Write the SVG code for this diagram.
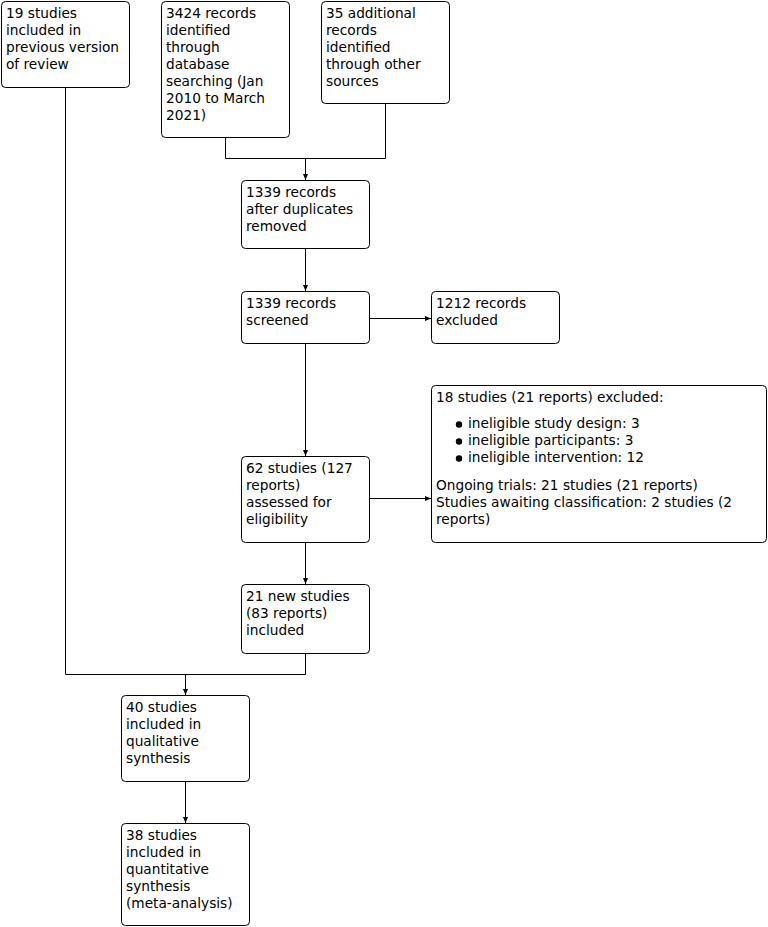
<svg xmlns="http://www.w3.org/2000/svg" width="768" height="927" viewBox="0 0 768 927">
<style>
rect.box{fill:#fff;stroke:#000;stroke-width:1}
text{font-family:"DejaVu Sans",Verdana,sans-serif;font-size:13.7px;fill:#000}
.c{fill:none;stroke:#000;stroke-width:1}
</style>
<defs>
<marker id="ah" markerWidth="6" markerHeight="6" refX="6" refY="3" orient="auto" markerUnits="userSpaceOnUse">
<path d="M0,0.5 L6,3 L0,5.5 Z" fill="#000"/>
</marker>
</defs>
<rect width="768" height="927" fill="#fff"/>
<g id="connectors">
<path class="c" d="M225.5,137 V158.5 H385.5 V103"/>
<path class="c" d="M305.5,158.5 V180" marker-end="url(#ah)"/>
<path class="c" d="M305.5,248 V291" marker-end="url(#ah)"/>
<path class="c" d="M369,318.5 H431" marker-end="url(#ah)"/>
<path class="c" d="M305.5,343 V456" marker-end="url(#ah)"/>
<path class="c" d="M369,498.5 H431" marker-end="url(#ah)"/>
<path class="c" d="M305.5,542 V584" marker-end="url(#ah)"/>
<path class="c" d="M65.5,87 V674.5 H305.5 V653"/>
<path class="c" d="M185.5,674.5 V695" marker-end="url(#ah)"/>
<path class="c" d="M185.5,781 V823" marker-end="url(#ah)"/>
</g>
<g id="n1"><rect class="box" x="1.5" y="1.5" width="128" height="86" rx="4"/>
<text x="6" y="18">19 studies</text><text x="6" y="35">included in</text><text x="6" y="52">previous version</text><text x="6" y="69">of review</text></g>
<g id="n2"><rect class="box" x="161.5" y="1.5" width="128" height="136" rx="4"/>
<text x="166" y="18">3424 records</text><text x="166" y="35">identified</text><text x="166" y="52">through</text><text x="166" y="69">database</text><text x="166" y="86">searching (Jan</text><text x="166" y="103">2010 to March</text><text x="166" y="120">2021)</text></g>
<g id="n3"><rect class="box" x="321.5" y="1.5" width="128" height="102" rx="4"/>
<text x="326" y="18">35 additional</text><text x="326" y="35">records</text><text x="326" y="52">identified</text><text x="326" y="69">through other</text><text x="326" y="86">sources</text></g>
<g id="n4"><rect class="box" x="241.5" y="180.5" width="128" height="68" rx="4"/>
<text x="246" y="197">1339 records</text><text x="246" y="214">after duplicates</text><text x="246" y="231">removed</text></g>
<g id="n5"><rect class="box" x="241.5" y="291.5" width="128" height="52" rx="4"/>
<text x="246" y="308">1339 records</text><text x="246" y="325">screened</text></g>
<g id="n6"><rect class="box" x="431.5" y="291.5" width="128" height="52" rx="4"/>
<text x="436" y="308">1212 records</text><text x="436" y="325">excluded</text></g>
<g id="n7"><rect class="box" x="431.5" y="385.5" width="335" height="157" rx="4"/>
<text x="436" y="402">18 studies (21 reports) excluded:</text>
<circle cx="459" cy="424.5" r="3.2"/><text x="468" y="428">ineligible study design: 3</text>
<circle cx="459" cy="441.5" r="3.2"/><text x="468" y="445">ineligible participants: 3</text>
<circle cx="459" cy="458.5" r="3.2"/><text x="468" y="462">ineligible intervention: 12</text>
<text x="436" y="490">Ongoing trials: 21 studies (21 reports)</text>
<text x="436" y="507">Studies awaiting classification: 2 studies (2</text>
<text x="436" y="524">reports)</text></g>
<g id="n8"><rect class="box" x="241.5" y="456.5" width="128" height="86" rx="4"/>
<text x="246" y="473">62 studies (127</text><text x="246" y="490">reports)</text><text x="246" y="507">assessed for</text><text x="246" y="524">eligibility</text></g>
<g id="n9"><rect class="box" x="241.5" y="584.5" width="128" height="69" rx="4"/>
<text x="246" y="601">21 new studies</text><text x="246" y="618">(83 reports)</text><text x="246" y="635">included</text></g>
<g id="n10"><rect class="box" x="121.5" y="695.5" width="128" height="86" rx="4"/>
<text x="126" y="712">40 studies</text><text x="126" y="729">included in</text><text x="126" y="746">qualitative</text><text x="126" y="763">synthesis</text></g>
<g id="n11"><rect class="box" x="121.5" y="823.5" width="128" height="102" rx="4"/>
<text x="126" y="840">38 studies</text><text x="126" y="857">included in</text><text x="126" y="874">quantitative</text><text x="126" y="891">synthesis</text><text x="126" y="908">(meta-analysis)</text></g>
</svg>
